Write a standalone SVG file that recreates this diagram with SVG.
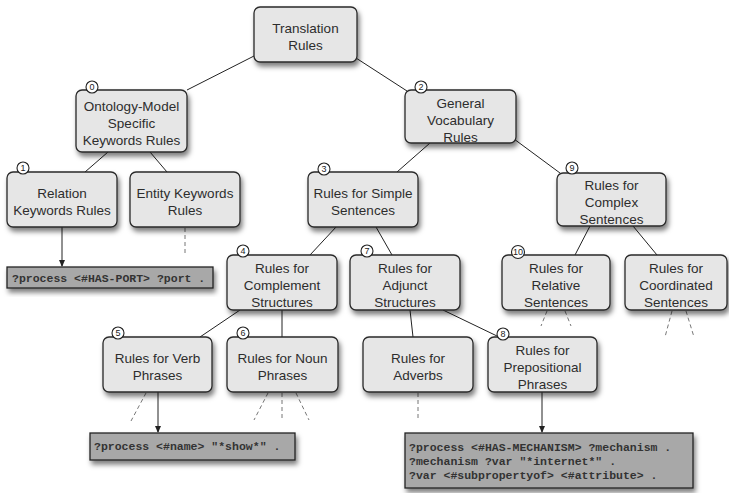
<svg xmlns="http://www.w3.org/2000/svg" width="729" height="493" viewBox="0 0 729 493">
<style>
.box{fill:#e6e6e6;stroke:#2a2a2a;stroke-width:1.3}
.code{fill:#a8a8a8;stroke:#222;stroke-width:1.3}
.t{font-family:"Liberation Sans",Arial,sans-serif;font-size:13.5px;fill:#2d2d2d;text-anchor:middle}
.m{font-family:"Liberation Mono","Courier New",monospace;font-size:11.5px;font-weight:bold;fill:#333}
.bc{fill:#fff;stroke:#222;stroke-width:1.1}
.bt{font-family:"Liberation Sans",Arial,sans-serif;font-size:9px;fill:#222;text-anchor:middle}
.ln{stroke:#222;stroke-width:1;fill:none}
.ds{stroke:#777;stroke-width:1;stroke-dasharray:4,3;fill:none}
</style>
<defs>
<filter id="sh" x="-20%" y="-20%" width="150%" height="160%">
<feDropShadow dx="2" dy="4" stdDeviation="2.5" flood-color="#000" flood-opacity="0.5"/>
</filter>
<marker id="ar" viewBox="0 0 8 8" refX="7" refY="4" markerWidth="7" markerHeight="7" markerUnits="userSpaceOnUse" orient="auto">
<path d="M0,0.5 L8,4 L0,7.5 Z" fill="#222"/>
</marker>
</defs>
<g id="connectors">
<line class="ln" x1="254" y1="56" x2="187" y2="90"/>
<line class="ln" x1="356" y1="58" x2="407" y2="91"/>
<line class="ln" x1="108" y1="152" x2="85" y2="172"/>
<line class="ln" x1="150" y1="152" x2="167" y2="172"/>
<line class="ln" x1="430" y1="143" x2="397" y2="172"/>
<line class="ln" x1="514" y1="139" x2="560" y2="173"/>
<line class="ln" x1="337" y1="226" x2="310" y2="255"/>
<line class="ln" x1="376" y1="227" x2="392" y2="255"/>
<line class="ln" x1="590" y1="226" x2="575" y2="255"/>
<line class="ln" x1="633" y1="226" x2="657" y2="255"/>
<line class="ln" x1="240" y1="310" x2="200" y2="337"/>
<line class="ln" x1="282" y1="310" x2="282" y2="337"/>
<line class="ln" x1="410" y1="310" x2="413" y2="337"/>
<line class="ln" x1="443" y1="310" x2="497" y2="336"/>
<line class="ln" x1="62" y1="227" x2="62" y2="266" marker-end="url(#ar)"/>
<line class="ln" x1="158" y1="392" x2="158" y2="432" marker-end="url(#ar)"/>
<line class="ln" x1="542" y1="392" x2="542" y2="432" marker-end="url(#ar)"/>
<line class="ds" x1="185" y1="228" x2="185" y2="256"/>
<line class="ds" x1="547" y1="311" x2="541" y2="326"/>
<line class="ds" x1="565" y1="311" x2="571" y2="326"/>
<line class="ds" x1="672" y1="311" x2="665" y2="337"/>
<line class="ds" x1="686" y1="311" x2="694" y2="337"/>
<line class="ds" x1="146" y1="393" x2="131" y2="421"/>
<line class="ds" x1="268" y1="393" x2="254" y2="420"/>
<line class="ds" x1="282" y1="393" x2="282" y2="421"/>
<line class="ds" x1="296" y1="393" x2="309" y2="420"/>
<line class="ds" x1="418" y1="393" x2="418" y2="421"/>
</g>
<g id="n-translation">
<rect class="box" x="254" y="7" width="103" height="55" rx="6" filter="url(#sh)"/>
<text class="t" x="305.5" y="33">Translation</text>
<text class="t" x="305.5" y="50">Rules</text>
</g>
<g id="n-ontology">
<rect class="box" x="76" y="90" width="111" height="62" rx="6" filter="url(#sh)"/>
<text class="t" x="131.5" y="111">Ontology-Model</text>
<text class="t" x="131.5" y="128">Specific</text>
<text class="t" x="131.5" y="145">Keywords Rules</text>
<circle class="bc" cx="92" cy="87" r="6"/><text class="bt" x="92" y="90.2">0</text>
</g>
<g id="n-general">
<rect class="box" x="405" y="90" width="111" height="53" rx="6" filter="url(#sh)"/>
<text class="t" x="460.5" y="107.5">General</text>
<text class="t" x="460.5" y="124.5">Vocabulary</text>
<text class="t" x="460.5" y="141.5">Rules</text>
<circle class="bc" cx="421" cy="87" r="6"/><text class="bt" x="421" y="90.2">2</text>
</g>
<g id="n-relation">
<rect class="box" x="7" y="172" width="110" height="55" rx="6" filter="url(#sh)"/>
<text class="t" x="62" y="198">Relation</text>
<text class="t" x="62" y="215">Keywords Rules</text>
<circle class="bc" cx="23" cy="168" r="6"/><text class="bt" x="23" y="171.2">1</text>
</g>
<g id="n-entity">
<rect class="box" x="130" y="172" width="110" height="55" rx="6" filter="url(#sh)"/>
<text class="t" x="185" y="198">Entity Keywords</text>
<text class="t" x="185" y="215">Rules</text>
</g>
<g id="n-simple">
<rect class="box" x="308" y="172" width="110" height="55" rx="6" filter="url(#sh)"/>
<text class="t" x="363" y="198">Rules for Simple</text>
<text class="t" x="363" y="215">Sentences</text>
<circle class="bc" cx="324" cy="169" r="6"/><text class="bt" x="324" y="172.2">3</text>
</g>
<g id="n-complex">
<rect class="box" x="557" y="173" width="109" height="53" rx="6" filter="url(#sh)"/>
<text class="t" x="611.5" y="189.5">Rules for</text>
<text class="t" x="611.5" y="206.5">Complex</text>
<text class="t" x="611.5" y="223.5">Sentences</text>
<circle class="bc" cx="572" cy="168" r="6"/><text class="bt" x="572" y="171.2">9</text>
</g>
<g id="n-complement">
<rect class="box" x="227" y="255" width="110" height="55" rx="6" filter="url(#sh)"/>
<text class="t" x="282" y="272.5">Rules for</text>
<text class="t" x="282" y="289.5">Complement</text>
<text class="t" x="282" y="306.5">Structures</text>
<circle class="bc" cx="243" cy="251" r="6"/><text class="bt" x="243" y="254.2">4</text>
</g>
<g id="n-adjunct">
<rect class="box" x="350" y="255" width="110" height="55" rx="6" filter="url(#sh)"/>
<text class="t" x="405" y="272.5">Rules for</text>
<text class="t" x="405" y="289.5">Adjunct</text>
<text class="t" x="405" y="306.5">Structures</text>
<circle class="bc" cx="367" cy="251" r="6"/><text class="bt" x="367" y="254.2">7</text>
</g>
<g id="n-relative">
<rect class="box" x="502" y="255" width="108" height="55" rx="6" filter="url(#sh)"/>
<text class="t" x="556" y="272.5">Rules for</text>
<text class="t" x="556" y="289.5">Relative</text>
<text class="t" x="556" y="306.5">Sentences</text>
<circle class="bc" cx="518" cy="252" r="6.5"/><text class="bt" x="518" y="255.2">10</text>
</g>
<g id="n-coordinated">
<rect class="box" x="625" y="255" width="102" height="55" rx="6" filter="url(#sh)"/>
<text class="t" x="676" y="272.5">Rules for</text>
<text class="t" x="676" y="289.5">Coordinated</text>
<text class="t" x="676" y="306.5">Sentences</text>
</g>
<g id="n-verb">
<rect class="box" x="103" y="337" width="109" height="55" rx="6" filter="url(#sh)"/>
<text class="t" x="157.5" y="363">Rules for Verb</text>
<text class="t" x="157.5" y="380">Phrases</text>
<circle class="bc" cx="118" cy="333" r="6"/><text class="bt" x="118" y="336.2">5</text>
</g>
<g id="n-noun">
<rect class="box" x="227" y="337" width="111" height="55" rx="6" filter="url(#sh)"/>
<text class="t" x="282.5" y="363">Rules for Noun</text>
<text class="t" x="282.5" y="380">Phrases</text>
<circle class="bc" cx="243" cy="333" r="6"/><text class="bt" x="243" y="336.2">6</text>
</g>
<g id="n-adverbs">
<rect class="box" x="363" y="337" width="110" height="55" rx="6" filter="url(#sh)"/>
<text class="t" x="418" y="363">Rules for</text>
<text class="t" x="418" y="380">Adverbs</text>
</g>
<g id="n-prepositional">
<rect class="box" x="488" y="337" width="109" height="55" rx="6" filter="url(#sh)"/>
<text class="t" x="542.5" y="354.5">Rules for</text>
<text class="t" x="542.5" y="371.5">Prepositional</text>
<text class="t" x="542.5" y="388.5">Phrases</text>
<circle class="bc" cx="503" cy="334" r="6"/><text class="bt" x="503" y="337.2">8</text>
</g>
<g id="code-port">
<rect class="code" x="7" y="267" width="206" height="21" filter="url(#sh)"/>
<text class="m" x="12" y="281.5">?process &lt;#HAS-PORT&gt; ?port .</text>
</g>
<g id="code-name">
<rect class="code" x="90" y="433" width="205" height="27" filter="url(#sh)"/>
<text class="m" x="94" y="450">?process &lt;#name&gt; "*show*" .</text>
</g>
<g id="code-mechanism">
<rect class="code" x="405" y="433" width="288" height="55" filter="url(#sh)"/>
<text class="m" x="409" y="451">?process &lt;#HAS-MECHANISM&gt; ?mechanism .</text>
<text class="m" x="409" y="465">?mechanism ?var "*internet*" .</text>
<text class="m" x="409" y="479">?var &lt;#subpropertyof&gt; &lt;#attribute&gt; .</text>
</g>
</svg>
